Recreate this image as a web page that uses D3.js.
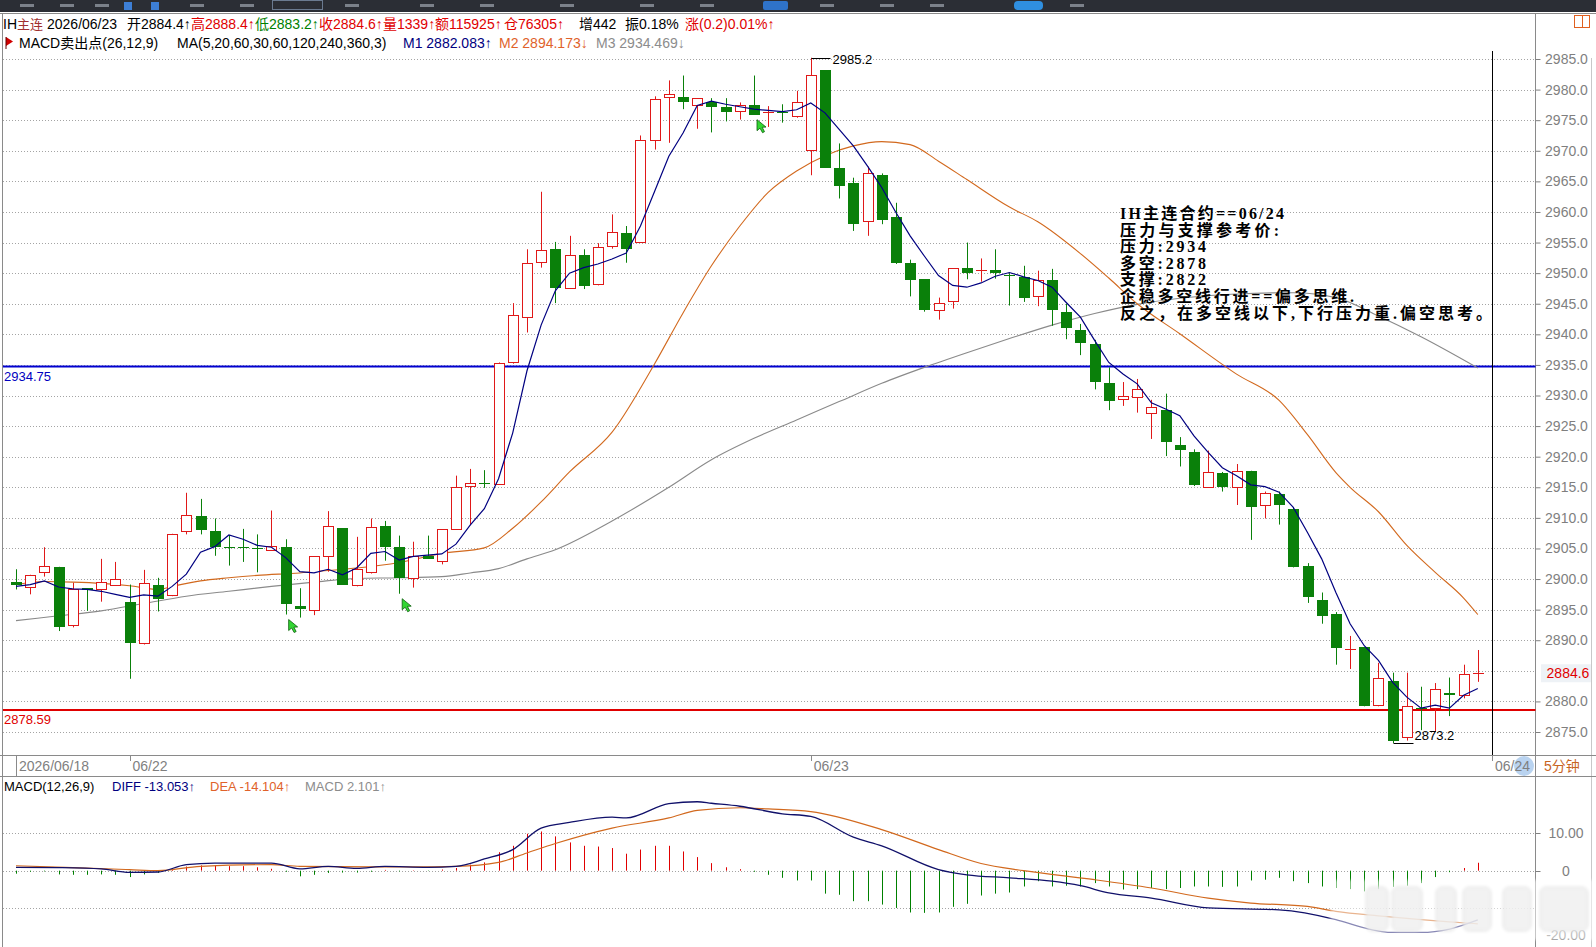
<!DOCTYPE html>
<html>
<head>
<meta charset="utf-8">
<script src="https://cdn.jsdelivr.net/npm/d3@7"></script>
<style>
body { margin: 0; background: #fff; }
svg { display: block; }
</style>
</head>
<body>
<div id="chart-area"></div>
<script>
// ---------- data ----------
var opens  = [2899.5,2898.7,2901.1,2902.0,2892.5,2898.5,2898.3,2899.1,2896.3,2889.5,2899.0,2897.4,2907.9,2910.3,2907.9,2905.2,2905.3,2905.0,2904.8,2905.3,
              2895.6,2894.9,2903.8,2908.3,2899.1,2901.2,2908.7,2905.2,2900.1,2903.8,2903.0,2908.2,2915.2,2915.7,2915.6,2935.4,2942.8,2951.9,2953.9,2947.5,
              2953.0,2948.2,2954.5,2956.5,2955.1,2971.8,2978.8,2978.8,2977.5,2978.0,2977.2,2976.5,2977.5,2976.2,2976.4,2975.7,2970.2,2983.2,2967.2,2964.7,
              2958.5,2966.0,2959.1,2951.6,2949.0,2943.9,2945.4,2950.8,2950.4,2950.5,2949.7,2949.3,2946.3,2948.8,2943.6,2940.7,2938.4,2932.1,2929.5,2929.7,
              2927.2,2927.6,2921.9,2920.8,2915.1,2917.3,2915.0,2917.7,2912.1,2913.9,2911.4,2902.2,2896.6,2894.3,2888.5,2888.9,2879.4,2883.3,2874.2,2878.9,
              2878.9,2881.3,2881.0,2884.4];
var highs  = [2901.6,2900.7,2905.2,2902.0,2899.4,2898.5,2903.3,2902.8,2899.1,2901.5,2900.2,2907.4,2914.1,2913.1,2909.9,2907.2,2908.2,2907.3,2911.2,2906.5,
              2898.5,2903.7,2911.1,2908.3,2906.9,2909.9,2909.5,2907.1,2906.1,2907.1,2908.1,2916.9,2918.0,2917.8,2935.4,2945.1,2953.9,2963.3,2955.1,2956.1,
              2953.9,2954.9,2959.6,2957.7,2972.5,2978.9,2981.5,2982.3,2978.6,2978.6,2978.6,2977.9,2982.3,2977.3,2977.6,2979.8,2985.2,2983.2,2971.2,2965.6,
              2967.4,2966.3,2961.5,2952.2,2949.0,2946.0,2950.8,2955.0,2952.4,2953.9,2950.0,2951.2,2950.4,2950.7,2945.0,2941.7,2939.1,2934.6,2932.2,2932.7,
              2929.3,2930.3,2923.2,2921.2,2921.0,2917.5,2918.8,2917.7,2914.3,2914.3,2911.7,2902.6,2897.8,2894.6,2890.7,2888.9,2886.3,2884.7,2884.7,2882.4,
              2883.0,2883.9,2886.0,2888.4];
var lows   = [2898.3,2897.5,2900.4,2891.5,2892.1,2894.8,2896.3,2899.0,2883.7,2889.3,2894.7,2897.2,2907.3,2907.3,2903.8,2902.2,2902.8,2901.1,2904.8,2894.2,
              2893.7,2894.1,2901.2,2899.1,2898.8,2900.9,2903.0,2897.6,2898.6,2903.3,2902.4,2908.2,2908.8,2914.9,2915.5,2935.2,2940.3,2950.9,2945.1,2947.5,
              2947.4,2948.0,2954.0,2951.7,2955.0,2970.2,2971.3,2976.8,2973.6,2973.0,2974.8,2975.1,2975.9,2973.9,2974.6,2975.4,2966.0,2967.2,2962.2,2956.9,
              2956.1,2958.0,2951.5,2946.2,2943.7,2942.4,2944.2,2949.0,2948.6,2949.1,2944.7,2945.3,2944.6,2941.4,2939.2,2936.6,2931.0,2927.6,2928.3,2927.2,
              2922.9,2920.1,2918.4,2915.2,2915.1,2914.3,2912.1,2906.4,2909.9,2908.9,2901.9,2896.1,2892.7,2886.0,2885.3,2879.2,2879.2,2873.2,2873.6,2875.3,
              2875.0,2877.6,2880.5,2883.2];
var closes = [2899.0,2900.7,2902.1,2892.1,2898.3,2898.2,2899.5,2900.0,2889.5,2899.3,2896.8,2907.4,2910.5,2908.0,2905.2,2905.1,2905.2,2904.9,2905.4,2895.9,
              2895.1,2903.7,2908.7,2899.1,2901.6,2908.5,2905.2,2900.1,2903.7,2903.3,2908.1,2915.0,2915.7,2915.5,2935.3,2943.2,2951.7,2953.8,2947.5,2953.0,
              2947.9,2954.3,2956.7,2954.0,2971.7,2978.4,2979.2,2977.9,2978.6,2977.2,2976.3,2977.4,2975.9,2976.4,2976.3,2978.0,2982.4,2967.2,2964.2,2958.0,
              2966.3,2958.7,2951.6,2948.9,2943.9,2945.2,2950.8,2950.0,2950.5,2950.0,2949.5,2946.0,2948.9,2943.9,2941.0,2938.5,2932.2,2929.1,2929.9,2931.1,
              2928.2,2922.4,2921.1,2915.4,2917.5,2915.0,2917.7,2911.8,2914.0,2912.1,2902.0,2897.0,2893.9,2888.7,2888.6,2879.2,2883.8,2873.5,2879.2,2878.8,
              2882.1,2881.1,2884.5,2884.6];

// M1 (MA5), one reading per bar
var ma5 = [2898.8,2899.1,2899.7,2898.7,2898.4,2898.3,2898.0,2897.5,2897.0,2897.4,2897.2,2898.8,2900.8,2904.4,2905.3,2907.2,2906.5,2905.5,2905.2,2903.5,
           2901.2,2901.0,2901.6,2900.7,2901.8,2904.2,2904.5,2903.1,2903.7,2903.9,2904.1,2905.7,2908.8,2911.5,2916.4,2923.9,2934.0,2941.5,2947.1,2950.0,
           2950.9,2951.5,2952.3,2953.3,2957.7,2963.4,2969.1,2972.9,2977.4,2978.1,2977.6,2977.2,2976.8,2976.6,2976.4,2976.7,2977.8,2976.2,2973.5,2970.8,
           2967.5,2964.0,2959.9,2956.1,2952.8,2949.6,2948.0,2947.7,2948.4,2949.5,2950.1,2949.4,2948.8,2947.7,2945.2,2942.8,2939.0,2935.4,2933.5,2931.9,
           2928.8,2927.8,2926.7,2923.4,2920.7,2918.2,2916.9,2915.4,2915.1,2914.2,2911.7,2907.6,2903.3,2897.8,2892.7,2889.1,2886.7,2883.1,2880.7,2878.9,
           2879.4,2878.9,2881.0,2882.1];
// M2 (MA20) and M3 (MA60), read at sample bars
var ma20Bars = [0,2,4,6,8,10,11,13,15,17,20,22,24,27,30,33,35,37,39,42,45,47,49,51,53,55,57,59,61,63,65,67,70,72,75,77,79,82,86,89,91,93,94,96,98,100,102,103];
var ma20Vals = [2899.1,2899.6,2899.5,2899.3,2898.9,2898.3,2898.8,2899.7,2900.2,2900.6,2901.0,2901.4,2901.8,2902.7,2904.2,2905.1,2908.3,2912.6,2917.5,2924.0,
                2935.2,2943.5,2951.2,2957.7,2963.2,2966.7,2969.2,2970.8,2971.5,2971.0,2968.3,2965.3,2960.8,2958.4,2953.2,2949.2,2945.0,2940.1,2933.5,2929.2,
                2923.6,2917.4,2915.0,2911.0,2905.5,2901.1,2896.9,2894.2];
var ma60Bars = [0,3,6,9,12,15,18,21,24,27,30,32,34,36,38,42,46,49,52,55,58,61,64,67,70,73,76,79,82,86,90,93,96,99,103];
var ma60Vals = [2893.2,2894.0,2894.8,2896.0,2897.2,2898.0,2898.8,2899.5,2900.1,2900.2,2900.4,2901.0,2901.7,2903.3,2904.8,2909.5,2915.0,2919.5,2923.0,2926.0,
                2929.0,2932.0,2934.6,2937.0,2939.3,2941.5,2943.4,2944.9,2945.9,2946.6,2946.8,2946.0,2943.0,2939.6,2934.5];

// MACD panel
var diffBars = [0,3,6,8,10,12,14,18,20,22,24,26,29,31,33,35,37,39,42,43,46,48,49,51,54,56,59,61,65,67,70,73,75,77,80,84,89,93,95,97,99,101,103];
var diffVals = [0.9,0.8,0.45,-0.45,-0.35,1.6,2.0,2.0,0.5,1.15,0.6,1.15,0.9,1.15,3.1,5.6,11.3,12.8,14.2,14.0,17.8,18.3,17.9,17.1,15.1,14.4,8.9,6.6,
                0.3,-1.1,-1.9,-2.8,-4.0,-5.9,-7.3,-9.9,-10.4,-13.0,-15.2,-16.4,-16.4,-15.5,-13.05];
var deaBars = [0,4,8,10,13,18,20,28,31,34,36,38,42,46,48,51,53,56,61,65,68,71,76,80,84,87,91,93,96,99,101,103];
var deaVals = [1.3,0.8,0.27,0,1.15,1.6,1.15,1.0,1.15,2.2,4.7,7.2,11.3,14.0,16.0,16.7,16.4,15.7,10.9,5.6,1.9,0,-2.4,-4.6,-7.3,-8.6,-9.5,-10.8,-12.0,-13.0,-13.6,-14.1];
var macdHist = [-0.8,-0.3,-0.2,-1.0,-1.1,-1.1,-1.0,-1.1,-1.7,-1.0,-0.6,0.7,1.1,1.4,1.4,1.2,1.2,0.9,0.5,-0.3,
                -1.5,-1.1,-0.6,-0.5,-0.5,-0.3,0.2,-0.2,0.1,-0.1,0.3,0.7,1.6,2.2,4.9,6.6,9.8,10.4,9.1,7.5,
                6.6,6.4,6.0,4.5,5.6,6.6,6.6,5.1,3.6,2.0,0.9,0.4,-0.3,-1.1,-1.9,-2.6,-2.6,-6.1,-6.4,-8.1,
                -8.1,-9.0,-9.9,-11.1,-11.2,-11.1,-9.6,-8.8,-6.6,-6.1,-5.8,-4.2,-2.8,-4.2,-4.0,-4.2,-3.3,-4.2,-5.0,-4.9,
                -4.6,-4.9,-4.6,-4.2,-4.2,-4.3,-4.2,-2.6,-2.4,-1.9,-2.8,-3.3,-4.2,-4.6,-4.9,-5.5,-4.9,-4.3,-4.0,-3.3,
                -1.7,-0.4,0.7,2.1];

var sellBars = [19, 27, 52];
var priceTicks = [2875,2880,2885,2890,2895,2900,2905,2910,2915,2920,2925,2930,2935,2940,2945,2950,2955,2960,2965,2970,2975,2980,2985];
var macdGrid = [10, 0, -10];
var macdLabelVals = [10, 0, -20];
var macdLabelText = ["10.00", "0", "-20.00"];
var dateBars = [0, 8, 56, 104];
var dateLabels = ["2026/06/18", "06/22", "06/23", "06/24"];
var resistLevel = 2934.75, pivotLevel = 2878.59, lastPrice = 2884.6;
var maxBar = 56, maxPrice = 2985.2, minBar = 97, minPrice = 2873.2;

var header1 = [
	{t: "IH", c: "#000", x: 3, s: 14}, {t: "主连", c: "#a03030", x: 17, s: 13},
	{t: "2026/06/23", c: "#000", x: 47, s: 14}, {t: "开2884.4↑", c: "#000", x: 127, s: 14},
	{t: "高2888.4↑", c: "#e00000", x: 191, s: 14}, {t: "低2883.2↑", c: "#008000", x: 255, s: 14},
	{t: "收2884.6↑", c: "#e00000", x: 319, s: 14}, {t: "量1339↑", c: "#e00000", x: 383, s: 14},
	{t: "额115925↑", c: "#e00000", x: 435, s: 14}, {t: "仓76305↑", c: "#e00000", x: 504, s: 14},
	{t: "增442", c: "#000", x: 579, s: 14}, {t: "振0.18%", c: "#000", x: 625, s: 14},
	{t: "涨(0.2)0.01%↑", c: "#e00000", x: 685, s: 14}
];
var header2 = [
	{t: "MACD卖出点(26,12,9)", c: "#000", x: 19, s: 14}, {t: "MA(5,20,60,30,60,120,240,360,3)", c: "#000", x: 177, s: 14},
	{t: "M1 2882.083↑", c: "#000080", x: 403, s: 14}, {t: "M2 2894.173↓", c: "#e0622a", x: 499, s: 14},
	{t: "M3 2934.469↓", c: "#8c8c8c", x: 596, s: 14}
];
var macdHeader = [
	{t: "MACD(12,26,9)", c: "#000", x: 4, s: 13}, {t: "DIFF -13.053↑", c: "#000080", x: 112, s: 13},
	{t: "DEA -14.104↑", c: "#e0622a", x: 210, s: 13}, {t: "MACD 2.101↑", c: "#8c8c8c", x: 305, s: 13}
];
var noteLines = ["IH主连合约==06/24", "压力与支撑参考价:", "压力:2934", "多空:2878", "支撑:2822",
                 "企稳多空线行进==偏多思维.", "反之，在多空线以下,下行压力重.偏空思考。"];
var noteWidths = [164, 159, 86, 86, 86, 234, 372];

// ---------- layout ----------
var FONT = '"Liberation Sans", Arial, "Noto Sans CJK SC", sans-serif';
var RED = "#e01818", GREEN = "#0a800a";
var W = 1596, H = 947;
var axisX = 1535.5;

var svg = d3.select("#chart-area")
	.append("svg")
		.attr("width", W)
		.attr("height", H)
		.style("font-family", FONT);

var defs = svg.append("defs");
defs.append("filter").attr("id", "blur").append("feGaussianBlur").attr("stdDeviation", 1.8);

svg.append("rect").attr("width", W).attr("height", H).attr("fill", "#fff");

// toolbar strip
svg.append("rect").attr("x", 0).attr("y", 0).attr("width", W).attr("height", 12).attr("fill", "#2b2e35");
[[124, 8], [151, 8]].forEach(function(d) {
	svg.append("rect").attr("x", d[0]).attr("y", 2).attr("width", d[1]).attr("height", 8).attr("fill", "#3d7fd6");
});
svg.append("rect").attr("x", 272.5).attr("y", 0.5).attr("width", 50).attr("height", 9).attr("fill", "none").attr("stroke", "#6a7a90");
svg.append("rect").attr("x", 763).attr("y", 1).attr("width", 25).attr("height", 9).attr("rx", 2).attr("fill", "#2f73c9");
svg.append("rect").attr("x", 1014).attr("y", 1).attr("width", 29).attr("height", 9).attr("rx", 4).attr("fill", "#2f8fe0");
[20, 60, 95, 190, 240, 345, 420, 480, 560, 640, 700, 820, 880, 930, 1070].forEach(function(px) {
	svg.append("rect").attr("x", px).attr("y", 4).attr("width", 14).attr("height", 3).attr("fill", "#7b818a");
});
svg.append("line").attr("x1", 0).attr("x2", W).attr("y1", 13.5).attr("y2", 13.5).attr("stroke", "#8a8a8a");

// scales
var x = d3.scaleLinear().domain([0, 104]).range([16, 1492]);
var y = d3.scaleLinear().domain([2875, 2985]).range([732, 59]);
var ym = d3.scaleLinear().domain([-20, 10]).range([946, 833]);
function px(i) { return Math.round(x(i)) + 0.5; }

// frame lines
svg.append("line").attr("x1", 2.5).attr("x2", 2.5).attr("y1", 14).attr("y2", H).attr("stroke", "#8a8a8a");
svg.append("line").attr("x1", axisX).attr("x2", axisX).attr("y1", 14).attr("y2", H).attr("stroke", "#8a8a8a");
svg.append("line").attr("x1", 1591.5).attr("x2", 1591.5).attr("y1", 58).attr("y2", H).attr("stroke", "#c8c8c8");
svg.append("line").attr("x1", 0).attr("x2", W).attr("y1", 755.5).attr("y2", 755.5).attr("stroke", "#8a8a8a");
svg.append("line").attr("x1", 0).attr("x2", W).attr("y1", 776.5).attr("y2", 776.5).attr("stroke", "#8a8a8a");

// small window icon top right
svg.append("rect").attr("x", 1574.5).attr("y", 15.5).attr("width", 15).attr("height", 12).attr("fill", "none").attr("stroke", "#e06020");
svg.append("line").attr("x1", 1582.5).attr("x2", 1582.5).attr("y1", 15.5).attr("y2", 27.5).attr("stroke", "#e06020");

// price gridlines
svg.append("g").selectAll("line").data(priceTicks).enter().append("line")
	.attr("x1", 3).attr("x2", axisX)
	.attr("y1", function(d) { return Math.round(y(d)) + 0.5; })
	.attr("y2", function(d) { return Math.round(y(d)) + 0.5; })
	.attr("stroke", "#a4a4a4")
	.attr("stroke-dasharray", "1,2");

// right price axis
var axisTicks = priceTicks.filter(function(p) { return Math.abs(p - lastPrice) > 2; });
var rightAxis = d3.axisRight(y).tickValues(axisTicks).tickSize(5).tickFormat(d3.format(".1f"));
var ra = svg.append("g")
	.attr("class", "right axis")
	.attr("transform", "translate(" + axisX + ",0)")
	.call(rightAxis);
ra.select(".domain").remove();
ra.attr("font-size", 14).attr("font-family", FONT);
ra.selectAll("line").attr("stroke", "#808080");
ra.selectAll("text").attr("x", 31).attr("text-anchor", "middle").attr("fill", "#7f7f7f");

// current price label
svg.append("rect").attr("x", 1541).attr("y", y(lastPrice) - 9).attr("width", 50).attr("height", 18).attr("fill", "#eef2f6");
svg.append("text").attr("x", 1568).attr("y", y(lastPrice)).attr("dy", "0.35em")
	.attr("text-anchor", "middle").attr("font-size", "14px").attr("fill", "#e00000").text(d3.format(".1f")(lastPrice));

// level lines
svg.append("line").attr("x1", 3).attr("x2", axisX).attr("y1", y(resistLevel)).attr("y2", y(resistLevel))
	.attr("stroke", "#0000d0").attr("stroke-width", 2);
svg.append("text").attr("x", 4).attr("y", y(resistLevel) + 14.5).attr("font-size", "13px").attr("fill", "#0000c0").text(resistLevel);
svg.append("line").attr("x1", 3).attr("x2", axisX).attr("y1", y(pivotLevel)).attr("y2", y(pivotLevel))
	.attr("stroke", "#e00000").attr("stroke-width", 2);
svg.append("text").attr("x", 4).attr("y", y(pivotLevel) + 14).attr("font-size", "13px").attr("fill", "#e00000").text(pivotLevel);

// moving averages
var line = d3.line().x(function(d) { return x(d[0]); }).y(function(d) { return y(d[1]); });
var smooth = d3.line().x(function(d) { return x(d[0]); }).y(function(d) { return y(d[1]); }).curve(d3.curveMonotoneX);
svg.append("path").attr("d", smooth(d3.zip(ma60Bars, ma60Vals))).attr("fill", "none").attr("stroke", "#8a8a8a").attr("stroke-width", 1.1);
svg.append("path").attr("d", smooth(d3.zip(ma20Bars, ma20Vals))).attr("fill", "none").attr("stroke", "#d2691e").attr("stroke-width", 1.1);

// candles
var idx = d3.range(closes.length);
function isUp(i) { return closes[i] >= opens[i]; }
var cg = svg.append("g").attr("class", "candles");
cg.selectAll("line").data(idx).enter().append("line")
	.attr("x1", px).attr("x2", px)
	.attr("y1", function(i) { return y(highs[i]); })
	.attr("y2", function(i) { return y(lows[i]); })
	.attr("stroke", function(i) { return isUp(i) ? RED : GREEN; });
cg.selectAll("rect").data(idx).enter().append("rect")
	.each(function(i) {
		var top = Math.round(y(Math.max(opens[i], closes[i])));
		var bot = Math.round(y(Math.min(opens[i], closes[i])));
		var cx = Math.round(x(i));
		var r = d3.select(this);
		if (isUp(i) && bot - top >= 2) {
			r.attr("x", cx - 4.5).attr("y", top + 0.5).attr("width", 10).attr("height", bot - top)
				.attr("fill", "#fff").attr("stroke", RED);
		} else {
			r.attr("x", cx - 5).attr("y", top).attr("width", 11).attr("height", Math.max(1, bot - top))
				.attr("fill", isUp(i) ? RED : GREEN);
		}
	});

svg.append("path").attr("d", line(ma5.map(function(v, i) { return [i, v]; })))
	.attr("fill", "none").attr("stroke", "#000080").attr("stroke-width", 1.2);

// sell signal cursors
var cursor = "M0,0 L0,11 L3,8.5 L5.5,13 L7.5,12 L5.2,7.6 L9,7.4 Z";
svg.append("g").selectAll("path").data(sellBars).enter().append("path")
	.attr("d", cursor)
	.attr("transform", function(i) { return "translate(" + (x(i) + 3) + "," + (y(lows[i]) + 5) + ")"; })
	.attr("fill", "#33d633").attr("stroke", "#0b5e0b").attr("stroke-width", 0.8);

// max / min markers
svg.append("line").attr("x1", px(maxBar)).attr("x2", px(maxBar) + 19).attr("y1", Math.round(y(maxPrice)) + 0.5).attr("y2", Math.round(y(maxPrice)) + 0.5).attr("stroke", "#000");
svg.append("text").attr("x", px(maxBar) + 21).attr("y", y(maxPrice) + 1.5).attr("dy", "0.35em").attr("font-size", "13px").attr("fill", "#000").text(maxPrice.toFixed(1));
svg.append("line").attr("x1", px(minBar)).attr("x2", px(minBar) + 20).attr("y1", Math.round(y(minPrice)) + 0.5).attr("y2", Math.round(y(minPrice)) + 0.5).attr("stroke", "#000");
svg.append("text").attr("x", px(minBar) + 21).attr("y", y(minPrice) - 3).attr("font-size", "13px").attr("fill", "#000").text(minPrice.toFixed(1));

// day boundary of 06/24
svg.append("line").attr("x1", px(104)).attr("x2", px(104)).attr("y1", 51).attr("y2", 755).attr("stroke", "#000");

// annotation text
var notes = svg.append("g")
	.attr("font-family", '"Liberation Serif", "Noto Sans CJK SC", serif')
	.attr("font-weight", "bold").attr("font-size", "16px").attr("fill", "#000");
notes.selectAll("text").data(noteLines).enter().append("text")
	.attr("x", 1120)
	.attr("y", function(d, i) { return 219 + i * 16.6; })
	.attr("textLength", function(d, i) { return noteWidths[i]; })
	.attr("lengthAdjust", "spacing")
	.text(function(d) { return d; });

// header texts
function textRow(items, yy) {
	svg.append("g").selectAll("text").data(items).enter().append("text")
		.attr("x", function(d) { return d.x; })
		.attr("y", yy)
		.attr("font-size", function(d) { return d.s + "px"; })
		.attr("fill", function(d) { return d.c; })
		.text(function(d) { return d.t; });
}
textRow(header1, 29);
textRow(header2, 48);
svg.append("path").attr("d", "M6,37 L13,41.5 L6,46 Z").attr("fill", "#d00000");
svg.append("line").attr("x1", 6).attr("x2", 6).attr("y1", 37).attr("y2", 49).attr("stroke", "#600000");

// date row
dateBars.forEach(function(b, i) {
	if (i === 3) {
		svg.append("circle").attr("cx", 1524).attr("cy", 766).attr("r", 10).attr("fill", "#b9d3f0");
	}
	svg.append("line").attr("x1", px(b)).attr("x2", px(b)).attr("y1", 756).attr("y2", i === 0 ? 776 : 761).attr("stroke", "#8a8a8a");
	svg.append("text").attr("x", x(b) + 3).attr("y", 766).attr("dy", "0.35em")
		.attr("font-size", "14px").attr("fill", "#7f7f7f").text(dateLabels[i]);
});
svg.append("text").attr("x", 1544).attr("y", 766).attr("dy", "0.35em").attr("font-size", "14px").attr("fill", "#c8641e").text("5分钟");

// MACD panel
textRow(macdHeader, 791);
svg.append("g").selectAll("line").data(macdGrid).enter().append("line")
	.attr("x1", 3).attr("x2", axisX)
	.attr("y1", function(d) { return Math.round(ym(d)) + 0.5; })
	.attr("y2", function(d) { return Math.round(ym(d)) + 0.5; })
	.attr("stroke", "#a4a4a4").attr("stroke-dasharray", "1,2");
svg.append("g").selectAll("line").data(macdHist).enter().append("line")
	.attr("x1", function(d, i) { return px(i); })
	.attr("x2", function(d, i) { return px(i); })
	.attr("y1", ym(0))
	.attr("y2", function(d) { return ym(d); })
	.attr("stroke", function(d) { return d >= 0 ? "#e00000" : "#008000"; });
var mline = d3.line().x(function(d) { return x(d[0]); }).y(function(d) { return ym(d[1]); }).curve(d3.curveMonotoneX);
svg.append("path").attr("d", mline(d3.zip(deaBars, deaVals))).attr("fill", "none").attr("stroke", "#d2691e").attr("stroke-width", 1.2);
svg.append("path").attr("d", mline(d3.zip(diffBars, diffVals))).attr("fill", "none").attr("stroke", "#10106a").attr("stroke-width", 1.3);

macdLabelVals.forEach(function(v, i) {
	var yy = Math.min(ym(v), 935);
	if (v !== -20) {
		svg.append("line").attr("x1", axisX).attr("x2", axisX + 5).attr("y1", Math.round(ym(v)) + 0.5).attr("y2", Math.round(ym(v)) + 0.5).attr("stroke", "#808080");
	}
	svg.append("text").attr("x", 1566).attr("y", yy).attr("dy", "0.35em").attr("text-anchor", "middle")
		.attr("font-size", "14px").attr("fill", "#7f7f7f").text(macdLabelText[i]);
});

// faded watermark in the corner
var wm = svg.append("g").attr("filter", "url(#blur)");
wm.append("rect").attr("x", 1330).attr("y", 880).attr("width", 266).attr("height", 60).attr("fill", "#fff").attr("opacity", 0.5);
[[1366, 22], [1392, 30], [1436, 20], [1463, 28], [1503, 28], [1540, 48]].forEach(function(d) {
	wm.append("rect").attr("x", d[0]).attr("y", 887).attr("width", d[1]).attr("height", 44).attr("rx", 6)
		.attr("fill", "#eeeeee").attr("stroke", "#dadada").attr("opacity", 0.8);
});
</script>
</body>
</html>
